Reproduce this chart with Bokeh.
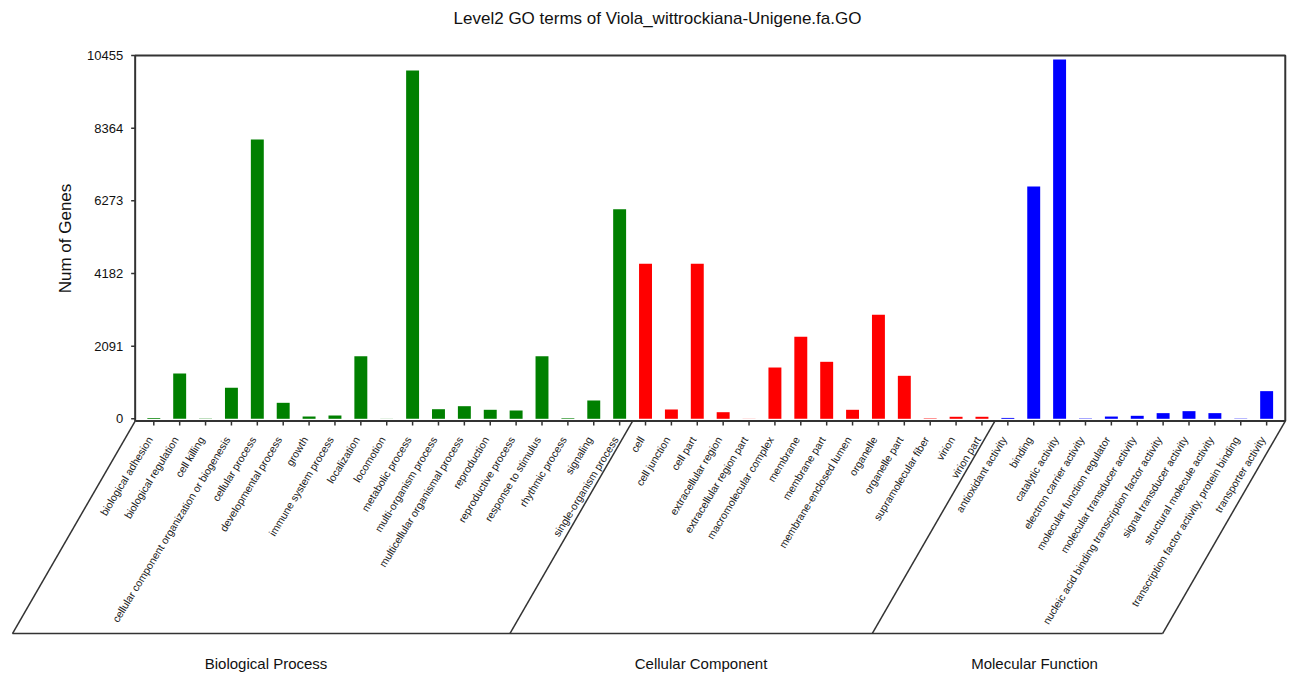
import math
from bokeh.plotting import figure
from bokeh.models import Range1d, ColumnDataSource
from bokeh.core.properties import value
from bokeh.embed import file_html
from bokeh.resources import INLINE

# ---------------- data ----------------
title_text = "Level2 GO terms of Viola_wittrockiana-Unigene.fa.GO"
y_label = "Num of Genes"
group_names = ["Biological Process", "Cellular Component", "Molecular Function"]

bp_terms = ["biological adhesion", "biological regulation", "cell killing",
            "cellular component organization or biogenesis", "cellular process",
            "developmental process", "growth", "immune system process", "localization",
            "locomotion", "metabolic process", "multi-organism process",
            "multicellular organismal process", "reproduction", "reproductive process",
            "response to stimulus", "rhythmic process", "signaling", "single-organism process"]
bp_counts = [25, 1305, 10, 890, 8040, 460, 66, 95, 1800, 3, 10025, 276, 363, 259, 239,
             1800, 17, 527, 6032]

cc_terms = ["cell", "cell junction", "cell part", "extracellular region",
            "extracellular region part", "macromolecular complex", "membrane",
            "membrane part", "membrane-enclosed lumen", "organelle", "organelle part",
            "supramolecular fiber", "virion", "virion part"]
cc_counts = [4460, 268, 4460, 190, 3, 1476, 2360, 1640, 259, 2993, 1237, 12, 58, 58]

mf_terms = ["antioxidant activity", "binding", "catalytic activity",
            "electron carrier activity", "molecular function regulator",
            "molecular transducer activity",
            "nucleic acid binding transcription factor activity",
            "signal transducer activity", "structural molecule activity",
            "transcription factor activity, protein binding", "transporter activity"]
mf_counts = [25, 6682, 10339, 10, 65, 86, 163, 220, 163, 8, 796]

y_ticks = [0, 2091, 4182, 6273, 8364, 10455]

# ---------------- styling / layout ----------------
group_colors = ["#008000", "#FF0000", "#0000FF"]
group_label_nudge_px = [2, 10, 20]
FONT = value("Liberation Sans")
LINE = "#333333"

W, H = 1288, 675
MARGIN = 0
X0 = 153.3      # page x of first category
STEP = 25.88    # px per category
Y0 = 418.3      # page y of value 0
YTOP = 55.0     # page y of top of frame (max tick)
YMAX = y_ticks[-1]
UPP = YMAX / (Y0 - YTOP)
LABEL_ANGLE = math.radians(58.5)
SEP_ANGLE = math.radians(60)


def dx(px):
    return px / STEP


def xd(page_x):
    return (page_x - X0) / STEP


def yd(page_y):
    return (Y0 - page_y) * UPP


groups = [(bp_terms, bp_counts), (cc_terms, cc_counts), (mf_terms, mf_counts)]
terms, counts, colors = [], [], []
for g, (t, c) in enumerate(groups):
    terms += t
    counts += c
    colors += [group_colors[g]] * len(t)
idx = list(range(len(terms)))
n = len(terms)

src = ColumnDataSource(dict(x=idx, top=counts, color=colors, term=terms))

p = figure(width=W, height=H,
           x_range=Range1d(xd(MARGIN), xd(MARGIN + W)),
           y_range=Range1d(yd(MARGIN + H), yd(MARGIN)),
           x_axis_type=None, y_axis_type=None,
           toolbar_location=None, output_backend="svg",
           min_border=0, min_border_left=0, min_border_right=0,
           min_border_top=0, min_border_bottom=0,
           outline_line_color=None, title=None)
p.background_fill_color = "white"
p.border_fill_color = "white"

L = -0.5 - 0.22
R = n - 1 + 0.5 + 0.22
BOT = yd(420.5)
TOP = YMAX

# bars
p.vbar(x="x", top="top", bottom=0, width=0.5, fill_color="color", line_color=None, source=src)

# frame box
p.line(x=[L, R, R, L, L], y=[BOT, BOT, TOP, TOP, BOT], line_color=LINE, line_width=2)

# y ticks and labels
p.segment(x0=[L] * len(y_ticks), y0=y_ticks, x1=[L - dx(4)] * len(y_ticks), y1=y_ticks,
          line_color=LINE, line_width=1.5)
p.text(x=[L - dx(12)] * len(y_ticks), y=y_ticks, text=[str(t) for t in y_ticks],
       text_align="right", text_baseline="middle", text_font=FONT,
       text_font_size="13px", text_color="#111111")

# y label
p.text(x=[xd(65)], y=[yd(238)], text=[y_label], angle=math.pi / 2,
       text_align="center", text_baseline="middle", text_font=FONT,
       text_font_size="17px", text_color="#111111")

# title
p.text(x=[xd(657)], y=[yd(18)], text=[title_text], text_align="center",
       text_baseline="middle", text_font=FONT, text_font_size="17px",
       text_color="#111111")

# x ticks
p.segment(x0=idx, y0=[BOT] * n, x1=idx, y1=[yd(425)] * n, line_color=LINE, line_width=1.5)

# x labels (rotated)
p.text(x=[i - dx(4) for i in idx], y=[yd(437)] * n, text=terms, angle=LABEL_ANGLE,
       text_align="right", text_baseline="middle", text_font=FONT,
       text_font_size="10.6px", text_color="#222222")

# slanted group separators
BOTTOM_PAGE = 633
shift = -dx((BOTTOM_PAGE - 420.5) / math.tan(SEP_ANGLE))
yb = yd(BOTTOM_PAGE)
sizes = [len(t) for t, _ in groups]
bounds = [L]
acc = 0
for s in sizes[:-1]:
    acc += s
    bounds.append(acc - 0.5)
bounds.append(R)
p.segment(x0=bounds, y0=[BOT] * len(bounds), x1=[b + shift for b in bounds],
          y1=[yb] * len(bounds), line_color=LINE, line_width=1.5)
p.segment(x0=[L + shift], y0=[yb], x1=[R + shift], y1=[yb], line_color=LINE, line_width=1.5)

# group labels
gx = []
start = 0
for g, s in enumerate(sizes):
    gx.append((start + start + s - 1) / 2 + shift + dx(group_label_nudge_px[g]))
    start += s
p.text(x=gx, y=[yd(663)] * len(gx), text=group_names, text_align="center",
       text_baseline="middle", text_font=FONT, text_font_size="15px",
       text_color="#111111")

open("out.html", "w").write(file_html(p, INLINE))
